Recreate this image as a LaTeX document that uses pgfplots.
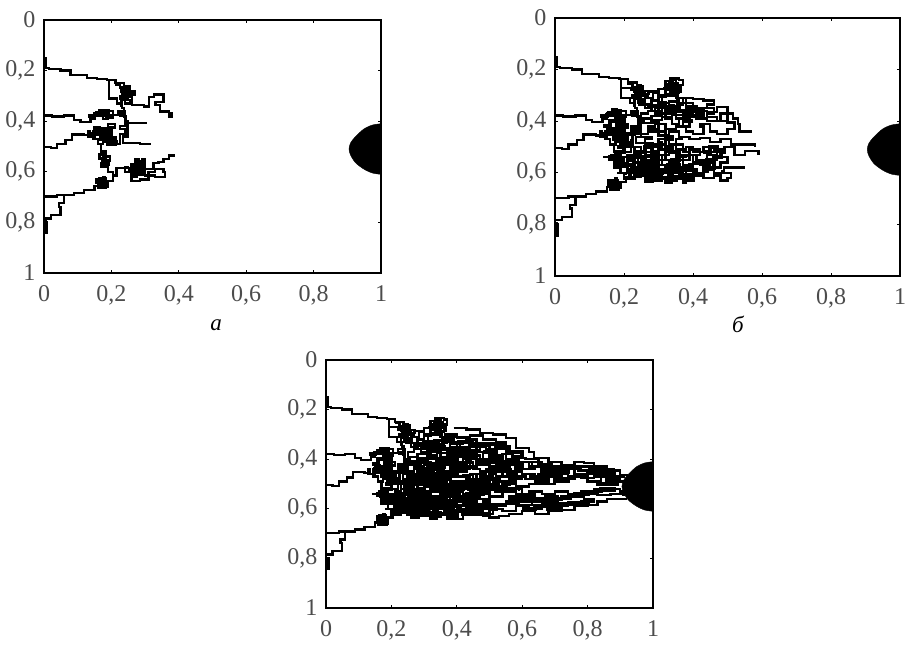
\documentclass[border=0pt]{standalone}
\usepackage{pgfplots}
\pgfplotsset{compat=1.18}
\usepackage{fontspec}
\setmainfont{Liberation Serif}
\pgfplotsset{
  tr/.style={const plot, black, line width=2.3pt, no markers, line join=miter},
  trb/.style={const plot, black, line width=3.8pt, no markers, line join=miter},
  ball/.style={black, fill=black, no markers, smooth},
  panel/.style={
    scale only axis, axis line style={black, line width=1.2pt},
    xmin=0,xmax=1,ymin=0,ymax=1,y dir=reverse,
    xtick={0,0.2,0.4,0.6,0.8,1}, ytick={0,0.2,0.4,0.6,0.8,1},
    tick style={black,line width=0.8pt}, tick align=inside, major tick length=3pt,
    /pgf/number format/use comma, /pgf/number format/assume math mode=true,
    ticklabel style={font=\fontsize{24}{26}\selectfont, text=black!70},
    xticklabel style={yshift=-9pt}, yticklabel style={xshift=-5pt},
    clip=true
  }
}
\newcommand\treeA{%
\addplot[tr] coordinates {(0,.15)(.005,.19)(.015,.193)(.049,.2)(.079,.217)(.108,.217)(.128,.23)(.157,.233)(.187,.237)(.212,.25)(.237,.263)(.256,.283)(.271,.294)(.247,.303)(.261,.336)(.296,.342)(.311,.303)(.326,.294)(.355,.323)(.331,.336)(.345,.362)(.37,.369)(.38,.382)(.37,.388)};
\addplot[tr] coordinates {(.187,.237)(.192,.27)(.192,.31)(.217,.33)(.232,.349)(.237,.382)(.242,.42)(.247,.455)};
\addplot[tr] coordinates {(.21,.255)(.225,.27)(.24,.26)(.25,.28)(.23,.285)(.245,.30)(.26,.29)(.235,.275)(.25,.31)(.225,.30)(.24,.33)(.255,.315)(.23,.345)};
\addplot[tr] coordinates {(0,.378)(.024,.382)(.059,.378)(.089,.395)(.108,.402)(.138,.389)(.15,.37)(.165,.355)(.18,.365)(.155,.38)(.175,.39)(.19,.36)(.205,.385)(.185,.375)(.22,.36)(.24,.37)(.225,.38)(.24,.40)(.25,.408)(.301,.412)};
\addplot[tr] coordinates {(0,.503)(.02,.507)(.039,.49)(.064,.474)(.083,.452)(.118,.455)(.135,.44)(.13,.46)(.15,.425)(.165,.44)(.145,.47)(.16,.49)(.175,.46)(.19,.41)(.21,.425)(.19,.45)(.20,.47)(.18,.48)(.215,.49)(.225,.45)(.24,.43)(.225,.42)(.245,.40)(.25,.46)(.235,.485)(.27,.485)(.285,.49)(.315,.485)};
\addplot[tr] coordinates {(.175,.49)(.17,.52)(.185,.53)(.165,.55)(.185,.565)(.17,.58)(.19,.58)(.175,.54)(.195,.555)(.19,.60)(.205,.61)};
\addplot[tr] coordinates {(0,.698)(.039,.692)(.089,.683)(.118,.672)(.15,.655)(.16,.635)(.175,.62)(.18,.64)(.16,.665)(.185,.65)(.17,.63)(.155,.645)(.175,.66)(.19,.635)(.205,.615)(.215,.585)(.25,.58)(.24,.60)(.26,.57)(.27,.55)(.28,.58)(.265,.60)(.29,.55)(.30,.575)(.275,.565)(.30,.60)(.275,.62)(.26,.635)(.285,.63)(.31,.60)(.33,.59)(.355,.60)(.36,.62)(.33,.615)(.30,.59)(.325,.565)(.34,.56)(.355,.55)(.37,.535)(.385,.53)};
\addplot[tr] coordinates {(.057,.692)(.059,.724)(.044,.738)(.049,.771)(.02,.784)(0,.797)(.005,.843)};
\addplot[trb] coordinates {(.13,.38)(.15,.375)(.17,.36)(.19,.375)(.165,.385)};
\addplot[trb] coordinates {(.14,.45)(.16,.43)(.18,.46)(.20,.44)(.17,.47)(.19,.49)(.21,.46)};
\addplot[trb] coordinates {(.17,.53)(.18,.55)(.175,.57)(.19,.56)};
\addplot[trb] coordinates {(.155,.64)(.17,.65)(.18,.63)(.165,.66)};
\addplot[trb] coordinates {(.25,.59)(.27,.575)(.285,.59)(.27,.60)(.29,.58)(.28,.56)(.295,.61)(.26,.58)};
\addplot[trb] coordinates {(.225,.27)(.245,.285)(.235,.30)(.25,.27)};
\addplot[trb] coordinates {(0,.80)(.005,.82)(.002,.84)(.006,.81)};
}
\newcommand\treeB{%
\addplot[tr] coordinates {(.195,.27)(.22,.28)(.25,.30)(.27,.285)(.30,.275)(.315,.27)(.32,.245)(.335,.235)(.36,.24)(.37,.26)(.365,.285)(.35,.30)(.335,.29)(.345,.265)(.33,.26)(.32,.28)(.34,.30)(.32,.305)(.30,.29)(.285,.31)(.26,.32)(.245,.335)(.27,.345)(.30,.33)(.33,.325)(.36,.31)(.40,.315)(.43,.32)(.46,.335)(.44,.35)(.41,.34)(.38,.33)(.36,.345)(.33,.35)(.30,.36)(.27,.37)(.25,.39)(.28,.395)(.31,.385)(.34,.375)(.37,.37)(.40,.36)(.44,.365)(.47,.345)(.50,.37)(.515,.39)(.53,.41)(.535,.44)(.57,.44)};
\addplot[tr] coordinates {(.345,.25)(.33,.27)(.355,.275)(.34,.285)(.36,.26)(.35,.24)(.335,.30)(.32,.27)(.36,.29)(.35,.31)(.37,.335)(.355,.36)(.33,.37)(.35,.39)(.38,.385)(.41,.39)(.44,.385)(.47,.40)(.50,.405)(.52,.43)(.50,.45)(.47,.44)(.45,.41)(.42,.42)(.43,.45)(.40,.44)(.38,.42)(.35,.43)(.32,.41)(.29,.42)(.27,.44)(.30,.455)(.33,.44)(.36,.46)(.39,.47)(.42,.465)(.45,.48)(.48,.47)(.51,.49)(.54,.49)(.58,.50)};
\addplot[tr] coordinates {(.16,.53)(.19,.52)(.22,.50)(.25,.52)(.28,.50)(.30,.47)(.33,.49)(.35,.51)(.38,.50)(.40,.52)(.43,.50)(.46,.52)(.49,.50)(.52,.53)(.55,.515)(.59,.53)};
\addplot[tr] coordinates {(.14,.54)(.17,.56)(.20,.54)(.23,.56)(.26,.53)(.29,.55)(.32,.52)(.35,.54)(.38,.53)(.41,.55)(.44,.53)(.47,.55)(.45,.57)(.42,.565)(.39,.58)(.36,.56)(.33,.57)(.30,.585)(.27,.57)(.24,.59)(.21,.575)(.19,.60)(.22,.615)(.25,.60)(.28,.61)(.31,.595)(.34,.60)(.37,.58)(.40,.60)(.43,.59)(.46,.60)(.49,.58)(.53,.58)(.55,.58)};
\addplot[tr] coordinates {(.18,.60)(.20,.625)(.23,.61)(.26,.63)(.29,.625)(.32,.64)(.34,.60)(.36,.615)(.38,.64)(.37,.625)(.40,.61)(.43,.62)(.46,.61)(.48,.63)(.50,.62)(.51,.60)(.485,.59)};
\addplot[tr] coordinates {(.25,.46)(.28,.47)(.26,.49)(.29,.50)(.31,.48)(.30,.51)(.33,.53)(.31,.55)(.34,.58)(.32,.60)(.29,.57)(.31,.53)(.27,.54)(.29,.52)(.25,.55)(.27,.58)(.25,.60)(.22,.58)(.24,.54)(.21,.53)(.23,.50)(.20,.50)(.22,.47)};
\addplot[tr] coordinates {(.37,.47)(.35,.49)(.37,.52)(.39,.55)(.37,.57)(.40,.59)(.38,.61)(.36,.59)(.35,.56)(.33,.55)(.36,.53)(.39,.51)(.42,.53)(.40,.56)(.43,.58)(.45,.55)(.44,.52)(.47,.54)(.50,.56)(.48,.58)(.46,.575)};
\addplot[tr] coordinates {(.26,.40)(.24,.42)(.22,.44)(.24,.45)(.27,.43)(.30,.40)(.28,.38)(.31,.37)(.33,.35)(.35,.37)(.32,.39)(.34,.41)(.36,.39)(.39,.40)(.37,.42)(.39,.35)(.41,.37)(.43,.35)(.46,.37)(.44,.40)(.48,.37)(.50,.40)};
\addplot[tr] coordinates {(.32,.30)(.30,.32)(.28,.335)(.26,.35)(.28,.36)(.31,.35)(.29,.37)(.31,.34)(.34,.34)(.36,.33)(.38,.35)(.40,.33)(.38,.31)(.36,.32)};
\addplot[trb] coordinates {(.325,.26)(.345,.255)(.355,.27)(.335,.28)(.35,.295)(.33,.29)};
\addplot[trb] coordinates {(.14,.42)(.16,.40)(.18,.38)(.20,.40)(.18,.42)(.20,.44)(.17,.45)(.15,.44)(.19,.47)(.21,.45)(.23,.42)};
\addplot[trb] coordinates {(.18,.50)(.20,.52)(.18,.54)(.16,.545)(.19,.565)(.21,.55)(.23,.57)(.21,.59)(.24,.58)(.26,.56)(.28,.57)(.26,.54)(.24,.52)(.26,.50)(.28,.52)(.30,.54)(.28,.59)(.31,.60)(.29,.62)(.27,.60)};
\addplot[trb] coordinates {(.30,.44)(.32,.46)(.34,.47)(.32,.50)(.34,.52)(.36,.55)(.34,.57)(.36,.58)(.34,.62)(.37,.60)};
\addplot[trb] coordinates {(.40,.40)(.38,.38)(.41,.37)(.43,.38)(.42,.36)(.36,.35)(.34,.36)(.32,.33)(.30,.35)};
\addplot[trb] coordinates {(.43,.52)(.45,.50)(.47,.51)(.49,.52)(.48,.54)(.46,.55)(.44,.56)(.46,.58)(.44,.60)};
\addplot[trb] coordinates {(.37,.62)(.40,.63)(.38,.61)(.42,.61)(.41,.59)(.33,.63)(.35,.61)};
}
\newcommand\treeC{%
\addplot[tr] coordinates {(.39,.275)(.43,.28)(.47,.295)(.51,.30)(.55,.315)(.58,.355)(.62,.37)(.635,.395)(.68,.41)(.72,.425)(.76,.41)(.79,.415)(.82,.44)(.85,.44)(.88,.445)(.90,.465)(.92,.47)};
\addplot[tr] coordinates {(.36,.30)(.40,.31)(.44,.305)(.48,.32)(.52,.33)(.55,.34)(.53,.36)(.49,.35)(.46,.37)(.50,.385)(.54,.38)(.57,.395)(.61,.40)(.65,.42)(.69,.43)(.73,.44)(.77,.445)(.80,.46)(.84,.455)(.87,.47)(.91,.475)};
\addplot[tr] coordinates {(.30,.40)(.34,.395)(.38,.41)(.42,.40)(.46,.42)(.50,.43)(.54,.42)(.58,.44)(.62,.43)(.66,.45)(.70,.455)(.74,.47)(.78,.475)(.82,.47)(.86,.48)(.90,.49)(.92,.49)};
\addplot[tr] coordinates {(.28,.45)(.32,.46)(.36,.45)(.40,.47)(.44,.46)(.48,.48)(.52,.47)(.56,.48)(.60,.46)(.64,.48)(.68,.47)(.72,.48)(.70,.50)(.66,.50)(.62,.51)(.58,.50)(.54,.51)(.50,.52)(.46,.51)(.42,.52)(.38,.51)};
\addplot[tr] coordinates {(.52,.36)(.55,.40)(.59,.41)(.63,.44)(.60,.45)(.56,.45)(.53,.44)(.50,.45)(.54,.47)(.57,.47)(.61,.48)(.65,.46)(.68,.45)(.71,.46)(.74,.45)(.72,.44)(.76,.46)(.80,.45)(.83,.46)(.87,.45)};
\addplot[tr] coordinates {(.30,.56)(.34,.55)(.38,.57)(.42,.54)(.46,.56)(.50,.55)(.54,.53)(.58,.54)(.62,.53)(.66,.54)(.70,.53)(.74,.54)(.78,.53)(.82,.52)(.86,.52)(.90,.53)(.92,.53)};
\addplot[tr] coordinates {(.35,.60)(.39,.59)(.43,.61)(.47,.58)(.51,.59)(.55,.57)(.59,.56)(.63,.57)(.67,.55)(.71,.56)(.75,.55)(.79,.54)(.83,.545)(.87,.54)(.91,.55)};
\addplot[tr] coordinates {(.38,.64)(.42,.625)(.46,.62)(.50,.635)(.53,.63)(.56,.62)(.60,.61)(.64,.62)(.68,.61)(.72,.605)(.76,.59)(.80,.585)(.83,.57)(.86,.56)(.90,.56)(.92,.56)};
\addplot[tr] coordinates {(.50,.60)(.54,.61)(.58,.59)(.62,.60)(.66,.58)(.70,.59)(.74,.575)(.78,.57)(.82,.56)(.79,.55)(.75,.56)(.71,.57)(.67,.57)(.63,.585)(.59,.58)(.55,.59)(.52,.58)(.56,.55)(.60,.54)(.64,.55)(.60,.52)(.56,.52)(.53,.50)(.50,.50)};
\addplot[tr] coordinates {(.60,.44)(.64,.43)(.62,.41)(.66,.43)(.69,.41)(.72,.45)(.68,.44)(.74,.43)(.78,.44)(.76,.43)(.80,.43)(.83,.43)(.86,.47)(.84,.49)(.80,.47)(.76,.48)(.72,.47)(.68,.49)(.64,.50)};
\addplot[tr] coordinates {(.36,.32)(.39,.34)(.42,.33)(.45,.35)(.42,.37)(.39,.36)(.37,.39)(.40,.41)(.43,.39)(.46,.40)(.44,.44)(.41,.43)(.38,.45)(.34,.43)(.31,.44)(.30,.47)(.33,.48)(.36,.47)(.38,.49)(.41,.49)(.44,.50)(.47,.49)(.46,.46)(.49,.44)(.52,.46)(.50,.47)};
\addplot[tr] coordinates {(.20,.56)(.23,.52)(.26,.51)(.24,.48)(.27,.46)(.29,.49)(.26,.52)(.28,.55)(.25,.57)(.27,.59)(.24,.61)(.21,.60)(.19,.58)(.22,.55)(.24,.53)(.27,.50)(.30,.53)(.33,.51)(.35,.53)(.32,.56)(.35,.58)(.33,.60)(.30,.58)(.28,.60)(.30,.62)(.34,.62)};
\addplot[tr] coordinates {(.42,.55)(.45,.58)(.42,.59)(.39,.56)(.41,.53)(.38,.53)(.36,.50)(.40,.50)(.43,.48)(.47,.47)(.50,.49)(.47,.52)(.50,.54)(.47,.56)(.50,.57)(.48,.60)(.45,.60)(.42,.60)};
\addplot[trb] coordinates {(.40,.33)(.44,.34)(.48,.34)(.52,.35)(.56,.37)(.60,.39)(.58,.41)(.54,.40)(.50,.41)(.46,.43)(.42,.44)};
\addplot[trb] coordinates {(.48,.37)(.52,.40)(.50,.42)(.47,.41)(.53,.43)(.56,.42)(.60,.43)(.58,.46)(.55,.46)};
\addplot[trb] coordinates {(.33,.43)(.36,.42)(.39,.44)(.42,.42)(.40,.46)(.37,.46)(.35,.44)(.32,.47)(.28,.48)(.26,.50)(.30,.50)(.33,.52)(.36,.52)(.39,.54)(.36,.56)(.33,.59)(.30,.57)(.27,.56)(.24,.56)(.22,.54)(.25,.53)(.28,.53)};
\addplot[trb] coordinates {(.42,.50)(.45,.49)(.48,.50)(.50,.48)(.53,.49)(.56,.50)(.55,.53)(.52,.52)(.49,.53)(.46,.54)(.43,.56)(.45,.59)(.48,.59)(.52,.60)(.50,.62)(.46,.62)(.42,.63)};
\addplot[trb] coordinates {(.62,.47)(.66,.47)(.70,.48)(.74,.49)(.70,.46)(.66,.44)(.70,.43)(.74,.46)};
\addplot[trb] coordinates {(.56,.56)(.60,.57)(.64,.56)(.68,.56)(.72,.55)(.76,.54)(.80,.53)(.84,.52)(.88,.525)(.84,.535)};
\addplot[trb] coordinates {(.60,.60)(.64,.59)(.68,.60)(.72,.59)(.68,.58)(.76,.58)(.80,.57)};
\addplot[trb] coordinates {(.80,.44)(.84,.45)(.88,.46)(.86,.49)(.89,.50)(.86,.50)(.83,.485)};
\addplot[trb] coordinates {(.25,.42)(.28,.41)(.31,.42)(.34,.40)(.37,.41)(.40,.38)(.43,.37)(.46,.39)(.44,.42)};
\addplot[trb] coordinates {(.22,.49)(.25,.47)(.28,.44)(.31,.46)(.29,.48)(.32,.49)(.35,.47)(.38,.48)(.36,.51)(.39,.52)(.42,.51)(.40,.54)(.37,.55)(.40,.57)(.37,.59)};
\addplot[trb] coordinates {(.23,.59)(.26,.60)(.25,.62)(.28,.61)(.32,.61)(.31,.58)(.34,.56)(.31,.54)(.29,.56)(.26,.55)};
}
\newcommand\ballAt{%
\addplot[ball] coordinates {(1,.41)(.975,.415)(.95,.43)(.925,.46)(.91,.485)(.905,.51)(.91,.535)(.925,.565)(.95,.59)(.975,.605)(1,.61)} -- cycle;
}
\begin{document}
\begin{tikzpicture}
\useasboundingbox (0,0) rectangle (909pt,646pt);
\begin{axis}[panel, at={(44pt,373pt)}, anchor=south west, width=337pt, height=253pt]
\treeA
\ballAt
\end{axis}
\begin{axis}[panel, at={(555pt,370pt)}, anchor=south west, width=345pt, height=258pt]
\treeA
\treeB
\ballAt
\end{axis}
\begin{axis}[panel, at={(326pt,38pt)}, anchor=south west, width=327pt, height=248pt]
\treeA
\treeB
\treeC
\ballAt
\end{axis}
\node[font=\fontsize{23}{25}\selectfont\itshape] at (216pt,321pt) {а};
\node[font=\fontsize{23}{25}\selectfont\itshape] at (738pt,322pt) {б};
\end{tikzpicture}
\end{document}
